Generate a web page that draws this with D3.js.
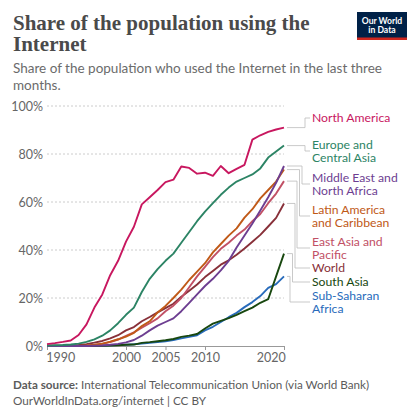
<!DOCTYPE html>
<html>
<head>
<meta charset="utf-8">
<script src="https://cdn.jsdelivr.net/npm/d3@7"></script>
<style>
  html, body { margin: 0; padding: 0; background: #fff; }
  svg { display: block; }
</style>
</head>
<body>
<div id="chart"></div>
<script>
// years on the x axis
const years = d3.range(1990, 2021);

// share of population using the internet (%), one value per year 1990..2020
const northAmerica = [0.8, 1.2, 1.7, 2.3, 4.6, 9.0, 16.0, 21.5, 29.5, 35.5, 43.5, 49.7, 59.0, 62.0, 65.0, 68.3,
  69.3, 74.8, 74.2, 71.8, 72.2, 70.9, 75.0, 72.0, 73.8, 75.5, 86.0, 87.8, 89.2, 90.2, 91.0];
const europeCentralAsia = [0.2, 0.3, 0.4, 0.6, 1.0, 1.7, 2.8, 4.3, 6.5, 9.5, 13.0, 16.0, 22.5, 28.0, 32.0, 35.5,
  38.5, 43.0, 47.5, 52.0, 56.0, 59.5, 63.0, 66.0, 68.5, 70.0, 71.5, 74.0, 78.5, 81.0, 83.5];
const middleEastNorthAfrica = [0, 0, 0, 0, 0, 0.02, 0.1, 0.2, 0.5, 0.9, 1.5, 2.5, 4.3, 6.5, 8.5, 10.0,
  11.5, 14.5, 18.0, 21.5, 25.0, 28.0, 31.5, 35.5, 41.0, 46.0, 51.0, 56.5, 62.0, 68.0, 75.0];
const latinAmericaCaribbean = [0, 0, 0, 0.02, 0.05, 0.2, 0.5, 1.0, 1.8, 2.8, 3.9, 5.5, 8.3, 10.3, 14.0, 16.7,
  20.0, 23.5, 27.5, 31.0, 34.5, 39.0, 42.5, 46.0, 49.0, 53.5, 57.0, 61.5, 65.0, 68.5, 73.5];
const eastAsiaPacific = [0, 0, 0, 0.02, 0.05, 0.15, 0.4, 0.9, 1.6, 2.7, 4.2, 5.7, 7.6, 9.5, 11.5, 14.5,
  16.8, 20.0, 24.5, 29.0, 33.0, 37.0, 40.5, 43.0, 46.0, 48.5, 52.0, 55.0, 59.5, 63.5, 68.7];
const world = [0.05, 0.08, 0.13, 0.25, 0.4, 0.8, 1.4, 2.1, 3.2, 4.5, 6.5, 7.9, 10.3, 12.1, 14.0, 15.8,
  17.6, 20.5, 23.0, 25.6, 28.7, 31.3, 33.9, 35.7, 38.0, 40.6, 43.4, 46.3, 49.8, 53.4, 59.4];
const southAsia = [0, 0, 0, 0, 0, 0.05, 0.08, 0.1, 0.15, 0.3, 0.5, 0.6, 1.3, 1.6, 2.0, 2.4,
  2.9, 3.8, 4.3, 5.0, 7.3, 9.3, 10.5, 11.6, 13.0, 14.5, 16.0, 18.0, 19.5, 29.0, 38.5];
const subSaharanAfrica = [0, 0, 0, 0, 0, 0.05, 0.1, 0.15, 0.25, 0.35, 0.5, 0.7, 1.0, 1.3, 1.6, 2.0,
  2.5, 3.2, 3.8, 4.5, 6.5, 8.0, 10.0, 12.0, 13.8, 16.2, 18.3, 20.8, 24.2, 25.8, 29.0];

const seriesNames = ["North America", "Europe and Central Asia", "Middle East and North Africa",
  "Latin America and Caribbean", "East Asia and Pacific", "World", "South Asia", "Sub-Saharan Africa"];
const seriesValues = [northAmerica, europeCentralAsia, middleEastNorthAfrica, latinAmericaCaribbean,
  eastAsiaPacific, world, southAsia, subSaharanAfrica];
const labelLines = [["North America"], ["Europe and", "Central Asia"], ["Middle East and", "North Africa"],
  ["Latin America", "and Caribbean"], ["East Asia and", "Pacific"], ["World"], ["South Asia"],
  ["Sub-Saharan", "Africa"]];

const yTicks = [0, 20, 40, 60, 80, 100];
const xTicks = [1990, 2000, 2005, 2010, 2020];

// styling / layout
const colors = ["#c8175f", "#2c8465", "#6d3e91", "#c05917", "#c15065", "#883039", "#18470f", "#286bbb"];
const labelCenters = [118, 151, 184, 216, 248, 268, 282, 302]; // px, label block centres
const bendX = [305, 305, 302, 299.5, 297, 295, 292.5, 290];

const W = 420, H = 420;
const margin = { top: 106, left: 47, right: 136, bottom: 74 };
const width = W - margin.left - margin.right,
  height = H - margin.top - margin.bottom;

const svg = d3.select("#chart").append("svg")
  .attr("width", W)
  .attr("height", H)
  .style("font-family", "Lato, sans-serif");

// header
svg.append("text")
  .attr("x", 13).attr("y", 30)
  .style("font-family", "'Liberation Serif', serif")
  .style("font-weight", "bold")
  .style("font-size", "21px")
  .attr("fill", "#4a4a4a")
  .selectAll("tspan")
  .data(["Share of the population using the", "Internet"])
  .join("tspan")
  .attr("x", 13)
  .attr("dy", (d, i) => i ? 21 : 0)
  .text(d => d);

svg.append("text")
  .attr("x", 13).attr("y", 73)
  .style("font-size", "13.5px")
  .attr("fill", "#6b6b6b")
  .selectAll("tspan")
  .data(["Share of the population who used the Internet in the last three", "months."])
  .join("tspan")
  .attr("x", 13)
  .attr("dy", (d, i) => i ? 16.5 : 0)
  .text(d => d);

// logo
const logo = svg.append("g").attr("transform", "translate(357,12)");
logo.append("rect").attr("width", 50).attr("height", 28).attr("fill", "#002147");
logo.append("rect").attr("y", 25.5).attr("width", 50).attr("height", 2.5).attr("fill", "#ce261e");
logo.append("text")
  .attr("text-anchor", "middle")
  .attr("fill", "#fff")
  .style("font-size", "8.6px")
  .style("font-weight", "bold")
  .selectAll("tspan")
  .data(["Our World", "in Data"])
  .join("tspan")
  .attr("x", 25)
  .attr("y", (d, i) => 12 + i * 9)
  .text(d => d);

const g = svg.append("g")
  .attr("transform", "translate(" + margin.left + "," + margin.top + ")");

// set the ranges
const x = d3.scaleLinear().domain([1990, 2020]).range([0, width]);
const y = d3.scaleLinear().domain([0, 100]).range([height, 0]);

// grid lines
g.append("g")
  .selectAll("line")
  .data(yTicks.filter(d => d > 0))
  .join("line")
  .attr("x1", 0).attr("x2", width)
  .attr("y1", d => y(d)).attr("y2", d => y(d))
  .attr("stroke", "#ccc")
  .attr("stroke-dasharray", "2,2");

// y axis
const yAxis = g.append("g")
  .call(d3.axisLeft(y).tickValues(yTicks).tickFormat(d => d + "%").tickSize(0).tickPadding(4));
yAxis.select(".domain").remove();
yAxis.selectAll("text")
  .style("font-family", "Lato, sans-serif")
  .style("font-size", "12.5px")
  .attr("fill", "#666");

// x axis
const xAxis = g.append("g")
  .attr("transform", "translate(0," + height + ")")
  .call(d3.axisBottom(x).tickValues(xTicks).tickFormat(d3.format("d")).tickSize(4).tickSizeOuter(0).tickPadding(3));
xAxis.select(".domain").attr("stroke", "#999");
xAxis.selectAll(".tick line").attr("stroke", "#999");
xAxis.selectAll("text")
  .style("font-family", "Lato, sans-serif")
  .style("font-size", "12.5px")
  .attr("fill", "#666")
  .attr("text-anchor", (d, i) => i === 0 ? "start" : (i === xTicks.length - 1 ? "end" : "middle"))
  .attr("dx", (d, i) => i === 0 ? "-0.1em" : (i === xTicks.length - 1 ? "0.1em" : 0));

// lines
const line = d3.line()
  .x((d, i) => x(years[i]))
  .y(d => y(d));

g.append("g")
  .selectAll("path")
  .data(seriesValues.map((v, i) => ({ v, i })).reverse())
  .join("path")
  .attr("fill", "none")
  .attr("stroke", d => colors[d.i])
  .attr("stroke-width", 1.9)
  .attr("stroke-linejoin", "round")
  .attr("d", d => line(d.v));

// connectors and labels
seriesValues.forEach((v, i) => {
  const endY = margin.top + y(v[v.length - 1]);
  const x0 = margin.left + width + 3;
  svg.append("path")
    .attr("fill", "none")
    .attr("stroke", "#bbb")
    .attr("stroke-width", 0.8)
    .attr("d", `M${x0},${endY}H${bendX[i]}V${labelCenters[i]}H310`);

  const lines = labelLines[i];
  const lh = 12.5;
  svg.append("text")
    .attr("fill", colors[i])
    .style("font-size", "12.2px")
    .selectAll("tspan")
    .data(lines)
    .join("tspan")
    .attr("x", 312)
    .attr("y", (d, j) => labelCenters[i] - (lines.length - 1) * lh / 2 + j * lh + 4.3)
    .text(d => d);
});

// footer
const foot = svg.append("text")
  .attr("x", 13).attr("y", 389)
  .style("font-size", "11.7px")
  .attr("fill", "#5b5b5b");
foot.append("tspan").style("font-weight", "bold").text("Data source: ");
foot.append("tspan").text("International Telecommunication Union (via World Bank)");
svg.append("text")
  .attr("x", 13).attr("y", 405)
  .style("font-size", "11.7px")
  .attr("fill", "#5b5b5b")
  .text("OurWorldInData.org/internet | CC BY");
</script>
</body>
</html>
